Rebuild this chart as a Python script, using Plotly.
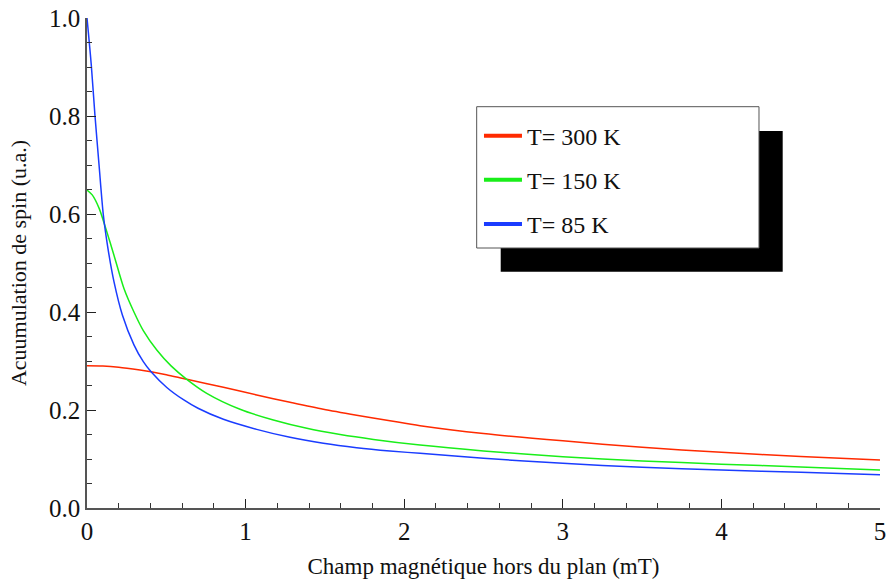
import plotly.graph_objects as go

# Data
x_300 = [0, 0.1, 0.2, 0.334, 0.404, 0.5, 0.629, 0.86, 1.07, 1.28, 1.49, 1.70, 1.91, 2.10, 2.5, 3.0, 3.5, 4.0, 4.5, 5.0]
y_300 = [0.2905, 0.2900, 0.2875, 0.2816, 0.278, 0.272, 0.2626, 0.2463, 0.2306, 0.2157, 0.2014, 0.1893, 0.178, 0.168, 0.152, 0.137, 0.124, 0.1136, 0.105, 0.098]

x_150 = [0, 0.033, 0.076, 0.118, 0.17, 0.233, 0.296, 0.355, 0.44, 0.53, 0.629, 0.755, 0.965, 1.175, 1.386, 1.596, 1.806, 2.10, 2.5, 3.0, 3.5, 4.0, 4.5, 5.0]
y_150 = [0.649, 0.639, 0.612, 0.571, 0.516, 0.448, 0.400, 0.362, 0.3224, 0.290, 0.2626, 0.234, 0.2014, 0.1796, 0.1626, 0.150, 0.140, 0.1285, 0.1165, 0.1045, 0.0960, 0.0895, 0.0837, 0.0776]

x_85 = [0, 0.027, 0.05, 0.076, 0.103, 0.132, 0.17, 0.223, 0.296, 0.355, 0.404, 0.503, 0.608, 0.70, 0.86, 1.07, 1.28, 1.49, 1.70, 1.91, 2.10, 2.5, 3.0, 3.5, 4.0, 4.5, 5.0]
y_85 = [1.0, 0.904, 0.802, 0.70, 0.598, 0.53, 0.462, 0.394, 0.333, 0.2986, 0.278, 0.246, 0.221, 0.2035, 0.181, 0.1605, 0.1442, 0.132, 0.123, 0.1163, 0.1116, 0.1014, 0.0912, 0.083, 0.0776, 0.0728, 0.068]

series_names = ["T= 300 K", "T= 150 K", "T= 85 K"]
series_colors = ["#ff2a00", "#19ee19", "#1a3cff"]

x_ticks = [0, 1, 2, 3, 4, 5]
x_tick_labels = ["0", "1", "2", "3", "4", "5"]
y_ticks = [0.0, 0.2, 0.4, 0.6, 0.8, 1.0]
y_tick_labels = ["0.0", "0.2", "0.4", "0.6", "0.8", "1.0"]

FONT = "Liberation Serif, Times New Roman, serif"

fig = go.Figure()
for xs, ys, name, col in zip([x_300, x_150, x_85], [y_300, y_150, y_85], series_names, series_colors):
    fig.add_trace(go.Scatter(x=xs, y=ys, mode="lines", name=name,
                             line=dict(color=col, width=1.5, shape="spline", smoothing=0.8),
                             showlegend=False, hoverinfo="x+y"))
    # legend entry with a thicker sample line
    fig.add_trace(go.Scatter(x=[None], y=[None], mode="lines", name=name,
                             line=dict(color=col, width=4), legendgroup=name,
                             showlegend=True))

axis_common = dict(
    showgrid=False, zeroline=False, showline=True, linecolor="#555555", linewidth=1.5,
    ticks="inside", ticklen=9, tickwidth=1.2, tickcolor="#222222",
    tickfont=dict(family=FONT, size=25, color="#111111"),
    mirror=False, automargin=False, ticklabeloverflow="allow",
)

fig.update_xaxes(range=[0, 5], tickvals=x_ticks, ticktext=x_tick_labels,
                 minor=dict(dtick=0.2, ticks="inside", ticklen=5, tickwidth=1, tickcolor="#333333"),
                 title=dict(text="Champ magnétique hors du plan (mT)", font=dict(family=FONT, size=23, color="#111111"), standoff=14),
                 **axis_common)
fig.update_yaxes(range=[0, 1.0], tickvals=y_ticks, ticktext=y_tick_labels,
                 minor=dict(dtick=0.05, ticks="inside", ticklen=5, tickwidth=1, tickcolor="#333333"),
                 title=dict(text="Acuumulation de spin (u.a.)", font=dict(family=FONT, size=22, color="#111111"), standoff=16),
                 **axis_common)

# legend frame with drop shadow
fig.add_shape(type="rect", xref="paper", yref="paper", x0=0.5217, x1=0.8773, y0=0.4822, y1=0.7694,
              fillcolor="black", line=dict(width=0), layer="above")
fig.add_shape(type="rect", xref="paper", yref="paper", x0=0.4914, x1=0.8474, y0=0.5306, y1=0.819,
              fillcolor="white", line=dict(color="#555555", width=1), layer="above")

fig.update_layout(
    width=886, height=584,
    margin=dict(l=87, r=6, t=18, b=76),
    plot_bgcolor="white", paper_bgcolor="white",
    legend=dict(x=0.4943, y=0.805, xanchor="left", yanchor="top", bgcolor="rgba(0,0,0,0)",
                borderwidth=0, font=dict(family=FONT, size=24, color="#111111"),
                tracegroupgap=10, itemwidth=38),
    font=dict(family=FONT),
)

# remove the default page margin so the figure fills the window exactly
fig.write_html("out.html", config={"displayModeBar": False},
               post_script="document.body.style.margin='0';document.body.style.overflow='hidden';")
